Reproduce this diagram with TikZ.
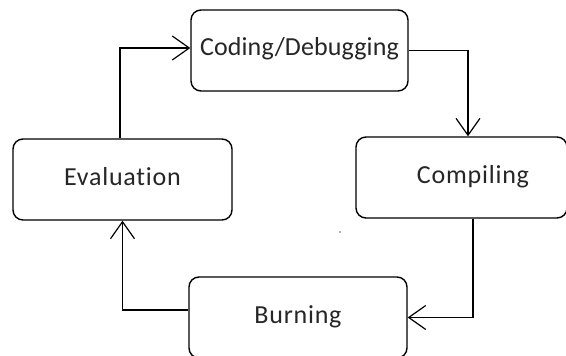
\documentclass[tikz,border=0pt]{standalone}
\usepackage{fontspec}
\setmainfont{Carlito}[Ligatures=NoCommon, LetterSpace=3]
\newfontfamily\tightfont{Carlito}[Ligatures=NoCommon, LetterSpace=0.5]
\usetikzlibrary{arrows.meta}
\begin{document}
\begin{tikzpicture}[x=1pt,y=-1pt,
  stagebox/.style={draw, line width=1.4pt, rounded corners=10pt, fill=white,
    minimum height=81pt, inner sep=0pt, text=black!85,
    font=\fontsize{26}{30}\selectfont, text height=18pt, text depth=7pt},
  flow/.style={line width=1.4pt, -{Straight Barb[length=17pt,width=24pt,line width=1.2pt]}}
]
\useasboundingbox (0,0) rectangle (566,356);
\clip (0,0) rectangle (566,356);
\node[stagebox, minimum width=217pt, font=\tightfont\fontsize{26}{30}\selectfont] (cod) at (299.5,50.5) {Coding/Debugging};
\node[stagebox, minimum width=219pt] (ev) at (122.5,179.5) {Evaluation};
\node[stagebox, minimum width=211pt] (comp) at (461.5,177.5) {\hspace*{23pt}Compiling};
\node[stagebox, minimum width=218pt] (burn) at (298,317.5) {Burning};
\draw[flow] ([xshift=-2.5pt]ev.north) |- ([yshift=2.5pt]cod.west);
\draw[flow] (cod.east) -| ([xshift=6.5pt]comp.north);
\draw[flow] ([xshift=11.5pt]comp.south) |- (burn.east);
\draw[flow] ([yshift=7.5pt]burn.west) -| (ev.south);
\fill[black!60] (340,232) circle (0.9pt);
\end{tikzpicture}
\end{document}
